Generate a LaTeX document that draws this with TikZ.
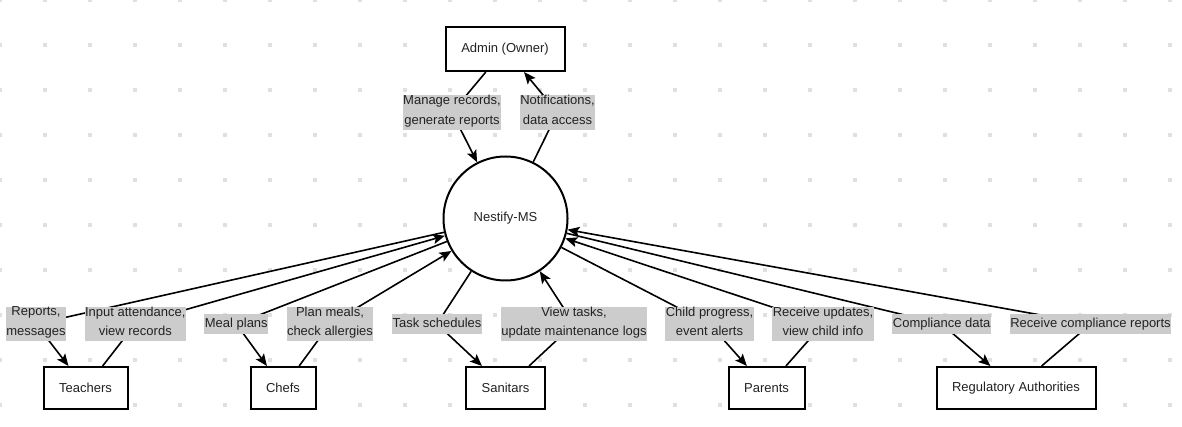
\documentclass[tikz,border=0pt]{standalone}
\usepackage{fontspec}
\setmainfont{Liberation Sans}
\usetikzlibrary{arrows.meta}
\definecolor{lblgray}{RGB}{204,204,204}
\definecolor{griddot}{RGB}{224,224,224}
\definecolor{txt}{RGB}{34,34,34}
\pgfdeclarelayer{gridlayer}
\pgfdeclarelayer{edgelayer}
\pgfsetlayers{gridlayer,edgelayer,main}
\begin{document}
\begin{tikzpicture}[x=1pt,y=-1pt,
  every node/.style={font=\fontsize{13}{19.5}\selectfont, text=txt},
  box/.style={draw=black, line width=2pt, fill=white, inner sep=0pt, minimum height=42pt},
  hub/.style={draw=black, line width=2pt, fill=white, circle, minimum size=124pt, inner sep=0pt},
  lbl/.style={fill=lblgray, inner xsep=0.5pt, inner ysep=0pt, align=center,
    execute at begin node=\strut, execute at end node=\strut},
  flow/.style={line width=1.6pt, line join=round, -{Stealth[length=12pt,width=10pt,inset=2.5pt]}},
]
\useasboundingbox (0,0) rectangle (1182,427);
\begin{pgfonlayer}{gridlayer}
  \foreach \i in {0,...,26}
    \foreach \j in {0,...,9}
      \fill[griddot] (\i*45-2.25,\j*45-2.25) rectangle ++(4.5,4.5);
\end{pgfonlayer}

% main nodes
\node[box, minimum width=119pt, minimum height=44pt] (A) at (505,49) {Admin (Owner)};
\node[hub] (N) at (505.5,218.5) {Nestify-MS};
\node[box, minimum width=84pt]  (T) at (85.5,388) {Teachers};
\node[box, minimum width=65pt]  (C) at (283,388) {Chefs};
\node[box, minimum width=79pt]  (S) at (505.5,388) {Sanitars};
\node[box, minimum width=76pt]  (P) at (766.5,388) {Parents};
\node[box, minimum width=159pt] (R) at (1016,388) {Regulatory Authorities};

% labels
\node[lbl] (l1)  at (452,112.5) {Manage records,\\generate reports};
\node[lbl] (l2)  at (557.5,112.5) {Notifications,\\data access};
\node[lbl] (l3)  at (36,324) {Reports,\\messages};
\node[lbl] (l4)  at (135.3,324) {Input attendance,\\view records};
\node[lbl] (l5)  at (236.3,324) {Meal plans};
\node[lbl] (l6)  at (330,324) {Plan meals,\\check allergies};
\node[lbl] (l7)  at (437,324) {Task schedules};
\node[lbl] (l8)  at (574,324) {View tasks,\\update maintenance logs};
\node[lbl] (l9)  at (709.5,324) {Child progress,\\event alerts};
\node[lbl] (l10) at (823,324) {Receive updates,\\view child info};
\node[lbl] (l11) at (941.7,324) {Compliance data};
\node[lbl] (l12) at (1090.5,324) {Receive compliance reports};

\begin{pgfonlayer}{edgelayer}
  \draw[flow] (A) -- (l1.center) -- (N);
  \draw[flow] (N) -- (l2.center) -- (A);
  \draw[flow] (N) -- (l3.center) -- (T);
  \draw[flow] (T) -- (l4.center) -- (N);
  \draw[flow] (N) -- (l5.center) -- (C);
  \draw[flow] (C) -- (l6.center) -- (N);
  \draw[flow] (N) -- (l7.center) -- (S);
  \draw[flow] (S) -- (l8.center) -- (N);
  \draw[flow] (N) -- (l9.center) -- (P);
  \draw[flow] (P) -- (l10.center) -- (N);
  \draw[flow] (N) -- (l11.center) -- (R);
  \draw[flow] (R) -- (l12.center) -- (N);
\end{pgfonlayer}
\end{tikzpicture}
\end{document}
